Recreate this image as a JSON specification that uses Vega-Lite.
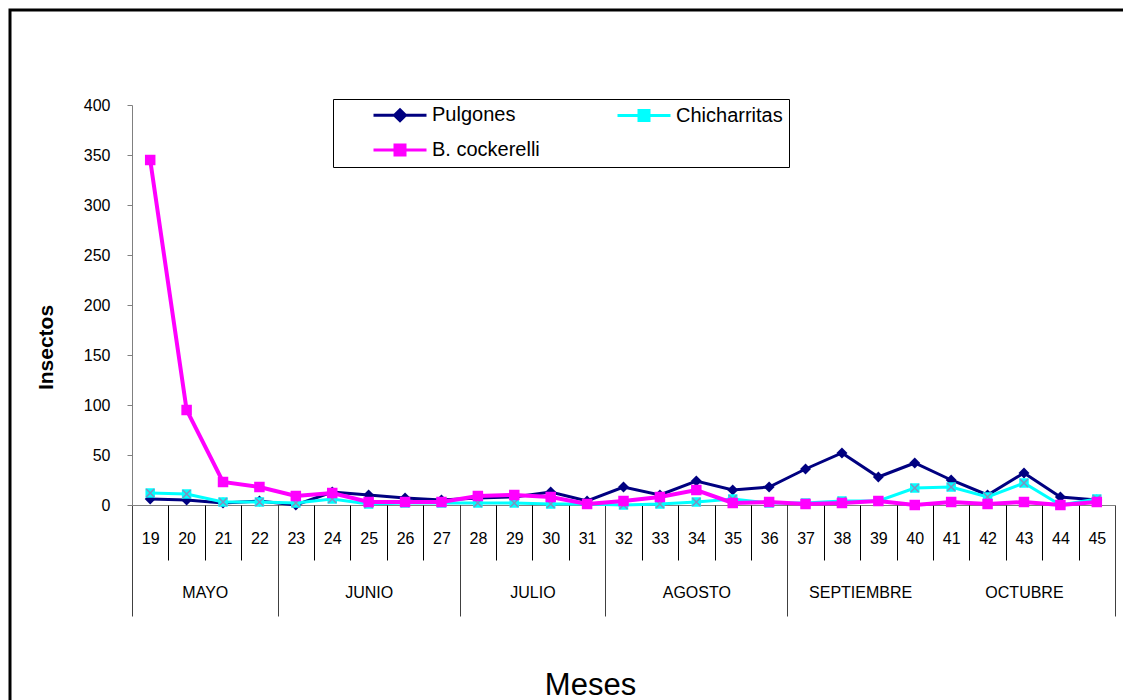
{
  "$schema": "https://vega.github.io/schema/vega-lite/v6.json",
  "width": 983,
  "height": 400,
  "autosize": {"type": "none"},
  "padding": {"left": 132, "top": 105, "right": 8, "bottom": 195},
  "background": "white",
  "config": {
    "view": {"stroke": null},
    "font": "Liberation Sans",
    "legend": {"strokeWidth": 3},
    "axis": {
      "grid": false,
      "labelFont": "Liberation Sans",
      "titleFont": "Liberation Sans",
      "labelColor": "black",
      "titleColor": "black",
      "labelFontSize": 16
    }
  },
  "data": {
    "values": [
      {"semana": 19, "serie": "Pulgones", "valor": 6},
      {"semana": 20, "serie": "Pulgones", "valor": 5},
      {"semana": 21, "serie": "Pulgones", "valor": 2},
      {"semana": 22, "serie": "Pulgones", "valor": 4},
      {"semana": 23, "serie": "Pulgones", "valor": 0},
      {"semana": 24, "serie": "Pulgones", "valor": 13},
      {"semana": 25, "serie": "Pulgones", "valor": 10},
      {"semana": 26, "serie": "Pulgones", "valor": 7},
      {"semana": 27, "serie": "Pulgones", "valor": 5},
      {"semana": 28, "serie": "Pulgones", "valor": 7},
      {"semana": 29, "serie": "Pulgones", "valor": 8},
      {"semana": 30, "serie": "Pulgones", "valor": 13},
      {"semana": 31, "serie": "Pulgones", "valor": 4},
      {"semana": 32, "serie": "Pulgones", "valor": 18},
      {"semana": 33, "serie": "Pulgones", "valor": 10},
      {"semana": 34, "serie": "Pulgones", "valor": 24},
      {"semana": 35, "serie": "Pulgones", "valor": 15},
      {"semana": 36, "serie": "Pulgones", "valor": 18},
      {"semana": 37, "serie": "Pulgones", "valor": 36},
      {"semana": 38, "serie": "Pulgones", "valor": 52},
      {"semana": 39, "serie": "Pulgones", "valor": 28},
      {"semana": 40, "serie": "Pulgones", "valor": 42},
      {"semana": 41, "serie": "Pulgones", "valor": 25},
      {"semana": 42, "serie": "Pulgones", "valor": 10},
      {"semana": 43, "serie": "Pulgones", "valor": 32},
      {"semana": 44, "serie": "Pulgones", "valor": 8},
      {"semana": 45, "serie": "Pulgones", "valor": 5},
      {"semana": 19, "serie": "Chicharritas", "valor": 12},
      {"semana": 20, "serie": "Chicharritas", "valor": 11},
      {"semana": 21, "serie": "Chicharritas", "valor": 3},
      {"semana": 22, "serie": "Chicharritas", "valor": 3},
      {"semana": 23, "serie": "Chicharritas", "valor": 2},
      {"semana": 24, "serie": "Chicharritas", "valor": 6},
      {"semana": 25, "serie": "Chicharritas", "valor": 1},
      {"semana": 26, "serie": "Chicharritas", "valor": 2},
      {"semana": 27, "serie": "Chicharritas", "valor": 2},
      {"semana": 28, "serie": "Chicharritas", "valor": 2},
      {"semana": 29, "serie": "Chicharritas", "valor": 2},
      {"semana": 30, "serie": "Chicharritas", "valor": 1},
      {"semana": 31, "serie": "Chicharritas", "valor": 1},
      {"semana": 32, "serie": "Chicharritas", "valor": 0},
      {"semana": 33, "serie": "Chicharritas", "valor": 1},
      {"semana": 34, "serie": "Chicharritas", "valor": 3},
      {"semana": 35, "serie": "Chicharritas", "valor": 6},
      {"semana": 36, "serie": "Chicharritas", "valor": 2},
      {"semana": 37, "serie": "Chicharritas", "valor": 2},
      {"semana": 38, "serie": "Chicharritas", "valor": 4},
      {"semana": 39, "serie": "Chicharritas", "valor": 4},
      {"semana": 40, "serie": "Chicharritas", "valor": 17},
      {"semana": 41, "serie": "Chicharritas", "valor": 18},
      {"semana": 42, "serie": "Chicharritas", "valor": 8},
      {"semana": 43, "serie": "Chicharritas", "valor": 22},
      {"semana": 44, "serie": "Chicharritas", "valor": 0},
      {"semana": 45, "serie": "Chicharritas", "valor": 6},
      {"semana": 19, "serie": "B. cockerelli", "valor": 345},
      {"semana": 20, "serie": "B. cockerelli", "valor": 95},
      {"semana": 21, "serie": "B. cockerelli", "valor": 23},
      {"semana": 22, "serie": "B. cockerelli", "valor": 18},
      {"semana": 23, "serie": "B. cockerelli", "valor": 9},
      {"semana": 24, "serie": "B. cockerelli", "valor": 12},
      {"semana": 25, "serie": "B. cockerelli", "valor": 3},
      {"semana": 26, "serie": "B. cockerelli", "valor": 3},
      {"semana": 27, "serie": "B. cockerelli", "valor": 3},
      {"semana": 28, "serie": "B. cockerelli", "valor": 9},
      {"semana": 29, "serie": "B. cockerelli", "valor": 10},
      {"semana": 30, "serie": "B. cockerelli", "valor": 8},
      {"semana": 31, "serie": "B. cockerelli", "valor": 1},
      {"semana": 32, "serie": "B. cockerelli", "valor": 4},
      {"semana": 33, "serie": "B. cockerelli", "valor": 8},
      {"semana": 34, "serie": "B. cockerelli", "valor": 15},
      {"semana": 35, "serie": "B. cockerelli", "valor": 2},
      {"semana": 36, "serie": "B. cockerelli", "valor": 3},
      {"semana": 37, "serie": "B. cockerelli", "valor": 1},
      {"semana": 38, "serie": "B. cockerelli", "valor": 2},
      {"semana": 39, "serie": "B. cockerelli", "valor": 4},
      {"semana": 40, "serie": "B. cockerelli", "valor": 0},
      {"semana": 41, "serie": "B. cockerelli", "valor": 3},
      {"semana": 42, "serie": "B. cockerelli", "valor": 1},
      {"semana": 43, "serie": "B. cockerelli", "valor": 3},
      {"semana": 44, "serie": "B. cockerelli", "valor": 0},
      {"semana": 45, "serie": "B. cockerelli", "valor": 3}
    ]
  },
  "encoding": {
    "y": {
      "field": "valor",
      "type": "quantitative",
      "scale": {"domain": [0, 400], "nice": false, "zero": true},
      "axis": {
        "values": [0, 50, 100, 150, 200, 250, 300, 350, 400],
        "domainColor": "#808080",
        "tickColor": "#808080",
        "tickSize": 5,
        "labelPadding": 17,
        "title": "Insectos",
        "titleFontSize": 21,
        "titleFontWeight": "bold",
        "titlePadding": 27,
        "titleY": 242
      }
    }
  },
  "resolve": {"scale": {"x": "shared"}, "axis": {"x": "independent"}},
  "layer": [
    {
      "transform": [{"filter": "datum.serie === 'Pulgones'"}],
      "mark": {"type": "line", "strokeWidth": 3},
      "encoding": {
        "x": {
          "field": "semana",
          "type": "quantitative",
          "scale": {"domain": [18.5, 45.5], "nice": false, "zero": false},
          "axis": {
            "orient": "bottom",
            "values": [19, 20, 21, 22, 23, 24, 25, 26, 27, 28, 29, 30, 31, 32, 33, 34, 35, 36, 37, 38, 39, 40, 41, 42, 43, 44, 45],
            "format": "d",
            "ticks": false,
            "tickSize": 0,
            "domainColor": "#808080",
            "labelPadding": 25,
            "labelFlush": false,
            "labelOverlap": false,
            "title": null
          }
        },
        "color": {
          "field": "serie",
          "type": "nominal",
          "scale": {
            "domain": ["Pulgones", "Chicharritas", "B. cockerelli"],
            "range": ["#000080", "#00FFFF", "#FF00FF"]
          },
          "legend": {
            "orient": "none",
            "legendX": 201,
            "legendY": -6,
            "columns": 2,
            "direction": "horizontal",
            "title": null,
            "strokeColor": "black",
            "padding": 6,
            "labelFont": "Liberation Sans",
            "labelFontSize": 20,
            "labelColor": "black",
            "symbolSize": 100,
            "symbolStrokeWidth": 3,
            "symbolOffset": 51,
            "labelOffset": 22,
            "columnPadding": 43,
            "rowPadding": 12,
            "encode": {
              "legend": {"update": {"strokeWidth": {"value": 1}}},
              "symbols": {
                "update": {
                  "shape": {"signal": "datum.value === 'Pulgones' ? 'M-5.3,0H5.3M0,-1.1L1.1,0L0,1.1L-1.1,0Z' : 'M-5.3,0H5.3M-1,-1H1V1H-1Z'"},
                  "fill": {"scale": "color", "field": "value"},
                  "stroke": {"scale": "color", "field": "value"},
                  "strokeWidth": {"value": 3},
                  "size": {"value": 100},
                  "opacity": {"value": 1}
                }
              }
            }
          }
        }
      }
    },
    {
      "transform": [{"filter": "datum.serie === 'Pulgones'"}],
      "mark": {"type": "point", "shape": "diamond", "filled": true, "opacity": 1, "size": 120, "color": "#000080"},
      "encoding": {
        "x": {
          "field": "semana",
          "type": "quantitative",
          "axis": {
            "orient": "bottom",
            "values": [19.5, 20.5, 21.5, 22.5, 23.5, 24.5, 25.5, 26.5, 27.5, 28.5, 29.5, 30.5, 31.5, 32.5, 33.5, 34.5, 35.5, 36.5, 37.5, 38.5, 39.5, 40.5, 41.5, 42.5, 43.5, 44.5],
            "labels": false,
            "domain": false,
            "tickSize": 55,
            "tickColor": "black",
            "title": null
          }
        }
      }
    },
    {
      "transform": [{"filter": "datum.serie === 'Chicharritas'"}],
      "mark": {"type": "line", "strokeWidth": 3},
      "encoding": {
        "x": {
          "field": "semana",
          "type": "quantitative",
          "axis": {
            "orient": "bottom",
            "values": [18.5, 22.5, 27.5, 31.5, 36.5, 45.5],
            "labels": false,
            "domain": false,
            "tickSize": 111,
            "tickColor": "#404040",
            "title": null
          }
        },
        "color": {"field": "serie", "type": "nominal"}
      }
    },
    {
      "transform": [{"filter": "datum.serie === 'Chicharritas'"}],
      "mark": {"type": "point", "shape": "square", "filled": true, "opacity": 1, "size": 90, "color": "#00FFFF"},
      "encoding": {
        "x": {
          "field": "semana",
          "type": "quantitative",
          "axis": {
            "orient": "bottom",
            "values": [20.5, 25, 29.5, 34, 38.5, 43],
            "labelExpr": "{'20.5': 'MAYO', '25': 'JUNIO', '29.5': 'JULIO', '34': 'AGOSTO', '38.5': 'SEPTIEMBRE', '43': 'OCTUBRE'}[datum.value + '']",
            "ticks": false,
            "domain": false,
            "labelPadding": 79,
            "labelFlush": false,
            "labelOverlap": false,
            "title": "Meses",
            "titleFontSize": 31,
            "titleFontWeight": "normal",
            "titlePadding": 70,
            "titleX": 458
          }
        }
      }
    },
    {
      "transform": [{"filter": "datum.serie === 'Chicharritas'"}],
      "mark": {"type": "point", "shape": "M-1,-1L1,1M1,-1L-1,1", "filled": false, "opacity": 1, "size": 64, "stroke": "#8090C0", "strokeWidth": 1.6},
      "encoding": {
        "x": {"field": "semana", "type": "quantitative", "axis": null}
      }
    },
    {
      "transform": [{"filter": "datum.serie === 'B. cockerelli'"}],
      "mark": {"type": "line", "strokeWidth": 4},
      "encoding": {
        "x": {"field": "semana", "type": "quantitative", "axis": null},
        "color": {"field": "serie", "type": "nominal"}
      }
    },
    {
      "transform": [{"filter": "datum.serie === 'B. cockerelli'"}],
      "mark": {"type": "point", "filled": true, "opacity": 1, "size": 110, "color": "#FF00FF"},
      "encoding": {
        "x": {"field": "semana", "type": "quantitative", "axis": null},
        "shape": {
          "field": "serie",
          "type": "nominal",
          "scale": {"range": ["square"]},
          "legend": {
            "orient": "none",
            "legendX": -122,
            "legendY": -95,
            "padding": 600,
            "title": null,
            "strokeColor": "black",
            "labelOpacity": 0,
            "symbolOpacity": 0
          }
        }
      }
    }
  ]
}
